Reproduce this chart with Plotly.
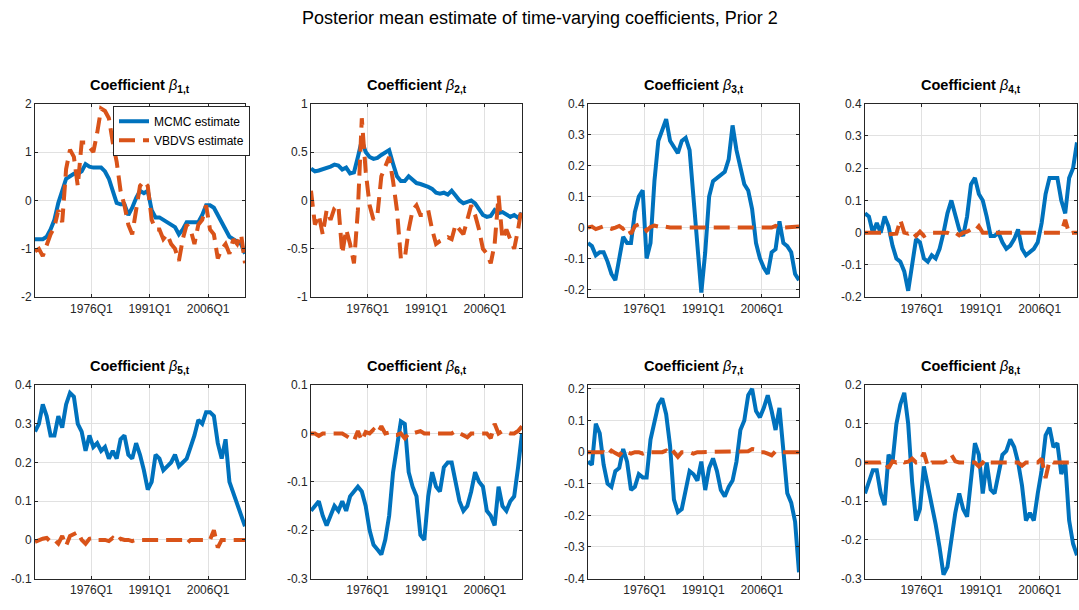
import numpy as np
import plotly.graph_objects as go

# Time axis: annual sampling of the quarterly sample 1961Q3 - 2015Q3
years = np.arange(1961.5, 2015.51, 1.0)
xtick_vals = [1976, 1991, 2006]
xtick_text = ["1976Q1", "1991Q1", "2006Q1"]

mcmc_1 = [-0.80, -0.80, -0.80, -0.75, -0.60, -0.40, -0.05, 0.20, 0.45, 0.50,
          0.55, 0.55, 0.60, 0.75, 0.70, 0.68, 0.68, 0.68, 0.60, 0.45,
          0.20, -0.05, -0.08, -0.08, -0.30, -0.15, 0.05, 0.20, 0.15, 0.20,
          -0.20, -0.35, -0.35, -0.40, -0.45, -0.50, -0.55, -0.70, -0.60, -0.45,
          -0.45, -0.45, -0.45, -0.30, -0.10, -0.10, -0.15, -0.30, -0.45, -0.60,
          -0.75, -0.80, -0.85, -0.90, -1.10]
vb_1 = [-1.05, -1.00, -1.15, -0.90, -0.70, -0.55, -0.20, -0.45, 0.65, 1.05,
        0.90, 0.30, 1.20, 1.20, 1.10, 1.00, 1.40, 1.90, 1.85, 1.70,
        1.20, 0.80, 0.20, -0.10, -0.50, -0.70, -0.20, 0.30, 0.40, 0.30,
        -0.40, -0.60, -0.60, -0.80, -0.70, -0.90, -1.00, -1.25, -0.80, -0.50,
        -0.60, -0.90, -0.50, -0.40, -0.10, -0.60, -0.70, -1.20, -1.00, -0.90,
        -1.10, -0.80, -0.90, -0.70, -1.30]

mcmc_2 = [0.33, 0.30, 0.31, 0.32, 0.34, 0.35, 0.37, 0.36, 0.32, 0.34,
          0.28, 0.29, 0.45, 0.62, 0.50, 0.45, 0.43, 0.44, 0.47, 0.50,
          0.52, 0.38, 0.25, 0.20, 0.20, 0.25, 0.22, 0.18, 0.17, 0.16,
          0.14, 0.12, 0.08, 0.07, 0.08, 0.06, 0.10, 0.05, 0.00, -0.03,
          -0.02, 0.00, -0.03, -0.10, -0.15, -0.17, -0.16, -0.10, -0.13, -0.12,
          -0.15, -0.17, -0.15, -0.18, -0.13]
vb_2 = [0.10, -0.25, -0.15, -0.35, -0.10, -0.20, -0.08, -0.05, -0.55, -0.30,
        -0.45, -0.65, -0.10, 0.85, 0.30, -0.05, -0.20, -0.15, 0.25, 0.35,
        0.45, 0.20, -0.10, -0.60, -0.60, -0.30, -0.10, -0.05, -0.15, -0.15,
        -0.10, -0.30, -0.45, -0.42, -0.40, -0.38, -0.40, -0.25, -0.30, -0.35,
        -0.20, -0.05, -0.15, -0.30, -0.50, -0.55, -0.65, -0.45, 0.05, -0.40,
        -0.30, -0.40, -0.50, -0.30, -0.05]

mcmc_3 = [-0.05, -0.06, -0.09, -0.08, -0.08, -0.11, -0.15, -0.17, -0.10, -0.03,
          -0.05, -0.05, 0.05, 0.10, 0.12, -0.10, -0.05, 0.15, 0.28, 0.32,
          0.35, 0.28, 0.26, 0.24, 0.28, 0.29, 0.25, 0.10, -0.05, -0.21,
          -0.08, 0.10, 0.15, 0.16, 0.17, 0.18, 0.22, 0.33, 0.25, 0.20,
          0.14, 0.12, 0.06, -0.05, -0.10, -0.13, -0.15, -0.08, -0.07, 0.02,
          -0.05, -0.06, -0.08, -0.15, -0.17]
vb_3 = [0, 0.003, -0.005, 0, 0.004, 0, -0.004, 0, 0.005, -0.004,
        0.004, -0.02, 0.005, 0.01, 0.008, -0.01, 0.002, 0.006, 0.003, 0.005,
        0.002, 0, 0, 0, 0, 0, 0, 0, 0, 0,
        0, 0, 0, 0, 0, 0, 0, 0, 0, 0,
        0, 0, 0, 0, 0, 0, -0.003, 0, 0.005, 0,
        0, 0, 0, 0, 0.003]

mcmc_4 = [0.06, 0.05, 0.00, 0.03, 0.00, 0.05, 0.02, -0.04, -0.08, -0.09,
          -0.12, -0.18, -0.10, -0.02, -0.03, -0.08, -0.09, -0.07, -0.08, -0.05,
          0.00, 0.06, 0.10, 0.06, 0.01, -0.01, 0.05, 0.15, 0.17, 0.12,
          0.10, 0.05, -0.01, -0.01, 0.00, -0.03, -0.05, -0.04, -0.02, 0.01,
          -0.05, -0.07, -0.06, -0.05, -0.03, 0.03, 0.12, 0.17, 0.17, 0.17,
          0.10, 0.06, 0.17, 0.20, 0.28]
vb_4 = [0, 0, 0.002, 0, 0.003, 0, -0.005, -0.005, -0.003, 0.04,
        0, -0.003, 0.005, -0.01, 0.003, -0.01, -0.003, 0, 0, 0,
        0, 0, -0.005, 0, -0.008, 0, 0.003, 0.01, 0.005, 0.02,
        0, 0, 0, 0, 0, 0, 0, 0, 0, 0,
        -0.003, 0, 0, 0, 0, 0, 0, 0, 0, 0,
        0, 0.04, -0.003, 0, 0]

mcmc_5 = [0.28, 0.30, 0.35, 0.32, 0.27, 0.27, 0.32, 0.29, 0.35, 0.38,
          0.37, 0.30, 0.28, 0.23, 0.27, 0.24, 0.25, 0.23, 0.24, 0.21,
          0.23, 0.21, 0.26, 0.27, 0.22, 0.21, 0.25, 0.22, 0.18, 0.13,
          0.15, 0.22, 0.21, 0.18, 0.19, 0.20, 0.22, 0.19, 0.20, 0.21,
          0.24, 0.27, 0.31, 0.30, 0.33, 0.33, 0.32, 0.25, 0.21, 0.26,
          0.15, 0.12, 0.09, 0.06, 0.035]
vb_5 = [-0.005, 0, 0.003, 0.005, -0.005, 0, -0.01, 0.01, -0.015, 0.01,
        0.015, 0.02, 0, -0.01, 0.003, 0.005, 0, 0, 0, -0.003,
        0.005, -0.005, 0.003, 0, 0, -0.003, 0, 0, 0, 0,
        0, 0, 0, 0, 0, 0, 0, 0, 0, -0.01,
        0, 0, 0, 0, 0, 0, 0.025, -0.02, 0, 0,
        0, 0, 0, 0, 0]

mcmc_6 = [-0.16, -0.15, -0.14, -0.17, -0.19, -0.17, -0.15, -0.16, -0.14, -0.16,
          -0.13, -0.12, -0.11, -0.12, -0.15, -0.20, -0.23, -0.24, -0.25, -0.22,
          -0.17, -0.08, -0.02, 0.025, 0.02, -0.08, -0.11, -0.13, -0.21, -0.22,
          -0.13, -0.08, -0.11, -0.12, -0.07, -0.06, -0.06, -0.10, -0.14, -0.16,
          -0.15, -0.12, -0.08, -0.10, -0.11, -0.16, -0.17, -0.19, -0.11, -0.15,
          -0.16, -0.14, -0.13, -0.07, 0.00]
vb_6 = [0, 0, -0.005, 0, 0, 0, 0, 0, 0, -0.005,
        -0.01, -0.015, 0.005, -0.015, 0.003, 0, 0.008, 0, 0.015, 0,
        0.002, -0.003, -0.003, 0, -0.01, 0, 0, 0.003, 0.005, 0,
        0, 0, 0, 0, 0, 0, 0, 0.005, 0, -0.003,
        -0.008, 0, 0, 0, 0, 0, -0.01, 0.02, 0, 0.005,
        0.003, 0, 0, 0.005, 0.015]

mcmc_7 = [-0.03, -0.04, 0.09, 0.06, -0.04, -0.10, -0.11, -0.06, -0.05, 0.01,
          -0.03, -0.12, -0.11, -0.07, -0.08, -0.08, 0.04, 0.10, 0.15, 0.17,
          0.12, 0.02, -0.15, -0.19, -0.18, -0.12, -0.06, -0.07, -0.09, -0.03,
          -0.12, -0.05, -0.02, -0.06, -0.12, -0.14, -0.11, -0.09, -0.03, 0.07,
          0.10, 0.18, 0.20, 0.13, 0.11, 0.14, 0.18, 0.13, 0.07, 0.14,
          0.02, -0.13, -0.16, -0.22, -0.38]
vb_7 = [0, 0, 0, 0, 0, -0.01, 0.005, -0.003, -0.01, 0.005,
        0, -0.005, 0, 0, -0.005, 0, 0, 0, 0, 0,
        0.005, -0.01, 0, -0.015, 0, 0, 0, -0.005, 0, 0,
        0, 0.003, 0, 0, 0, 0, 0, 0, 0, 0,
        0, 0.003, 0.01, 0.008, 0, 0, -0.005, -0.01, 0.003, 0,
        0, 0, 0, 0, 0]

mcmc_8 = [-0.08, -0.05, -0.02, -0.02, -0.08, -0.11, 0.02, 0.00, 0.10, 0.15,
          0.18, 0.10, -0.05, -0.15, -0.12, -0.01, -0.06, -0.10, -0.16, -0.22,
          -0.29, -0.27, -0.20, -0.13, -0.08, -0.12, -0.14, -0.05, 0.05, 0.02,
          -0.08, 0.00, -0.07, -0.08, -0.03, 0.02, 0.03, 0.06, 0.04, 0.00,
          -0.06, -0.15, -0.13, -0.15, -0.08, -0.02, 0.07, 0.09, 0.04, 0.05,
          -0.03, 0.00, -0.15, -0.21, -0.24]
vb_8 = [0, 0, 0, 0, 0, 0.003, -0.015, 0.003, 0, 0.005,
        0, 0.002, 0.01, 0, 0.003, 0.025, -0.01, 0, 0, 0,
        0, 0.005, 0.02, 0.003, 0, 0, 0, 0, 0, -0.01,
        0, -0.008, 0, 0, 0, 0, 0, 0, 0, 0,
        -0.008, 0, 0, 0, 0, 0.01, -0.04, 0.005, 0, 0,
        0, 0, 0, 0, 0]

mcmc_all = [mcmc_1, mcmc_2, mcmc_3, mcmc_4, mcmc_5, mcmc_6, mcmc_7, mcmc_8]
vb_all = [vb_1, vb_2, vb_3, vb_4, vb_5, vb_6, vb_7, vb_8]
y_ranges = [(-2, 2), (-1, 1), (-0.225, 0.4), (-0.2, 0.4),
            (-0.1, 0.4), (-0.3, 0.1), (-0.4, 0.212), (-0.3, 0.2)]
y_steps = [1, 0.5, 0.1, 0.1, 0.1, 0.1, 0.1, 0.1]

W, H = 1079, 610
col_px = [(35, 245), (311, 522), (588, 799), (865, 1077)]
row_px = [(99, 297), (387, 585)]

BLUE = "#0072BD"
ORANGE = "#D95319"
AX = "#262626"
FONT = "Liberation Sans, Arial, Helvetica, sans-serif"

fig = go.Figure()
layout = {}
annotations = []
for i in range(8):
    r, c = divmod(i, 4)
    n = i + 1
    xa = "x" if n == 1 else f"x{n}"
    ya = "y" if n == 1 else f"y{n}"
    fig.add_trace(go.Scatter(x=years, y=mcmc_all[i], mode="lines", name="MCMC estimate",
                             line=dict(color=BLUE, width=4), showlegend=(i == 0),
                             xaxis=xa, yaxis=ya))
    fig.add_trace(go.Scatter(x=years, y=vb_all[i], mode="lines", name="VBDVS estimate",
                             line=dict(color=ORANGE, width=4, dash="16px,8px"),
                             showlegend=(i == 0), xaxis=xa, yaxis=ya))
    x0, x1 = col_px[c]
    t0, t1 = row_px[r]
    lo, hi = y_ranges[i]
    st = y_steps[i]
    tv = []
    v = np.ceil(lo / st - 1e-9) * st
    while v <= hi + 1e-9:
        tv.append(round(v, 4))
        v += st
    tt = [("%g" % t) if abs(t) > 1e-9 else "0" for t in tv]
    common = dict(showline=True, linecolor=AX, linewidth=1, mirror="ticks",
                  ticks="inside", ticklen=3, tickcolor=AX, showgrid=True,
                  gridcolor="#e1e1e1", gridwidth=1, zeroline=False,
                  tickfont=dict(family=FONT, size=12, color=AX))
    layout["xaxis" + ("" if n == 1 else str(n))] = dict(
        domain=[x0 / W, x1 / W], anchor=ya, range=[years[0], years[-1]],
        tickvals=xtick_vals, ticktext=xtick_text, **common)
    layout["yaxis" + ("" if n == 1 else str(n))] = dict(
        domain=[1 - t1 / H, 1 - t0 / H], anchor=xa, range=[lo, hi],
        tickvals=tv, ticktext=tt, **common)
    annotations.append(dict(
        text=f"<b>Coefficient </b><i>β</i><sub><b>{n},t</b></sub>",
        xref="paper", yref="paper", x=(x0 + x1) / 2 / W, y=1 - t0 / H,
        xanchor="center", yanchor="bottom", yshift=7, showarrow=False,
        font=dict(family=FONT, size=14.5, color="black")))

annotations.append(dict(
    text="Posterior mean estimate of time-varying coefficients, Prior 2",
    xref="paper", yref="paper", x=0.5, y=1 - 11 / H, xanchor="center",
    yanchor="middle", showarrow=False, font=dict(family=FONT, size=18, color="black")))

fig.update_layout(
    width=W, height=H, margin=dict(l=0, r=0, t=0, b=0),
    paper_bgcolor="white", plot_bgcolor="white",
    annotations=annotations,
    legend=dict(x=113 / W, y=1 - 101 / H, xanchor="left", yanchor="top",
                bgcolor="white", bordercolor=AX, borderwidth=1,
                font=dict(family=FONT, size=12, color="black"),
                tracegroupgap=0, itemwidth=30),
    **layout)

fig.write_html("out.html")
